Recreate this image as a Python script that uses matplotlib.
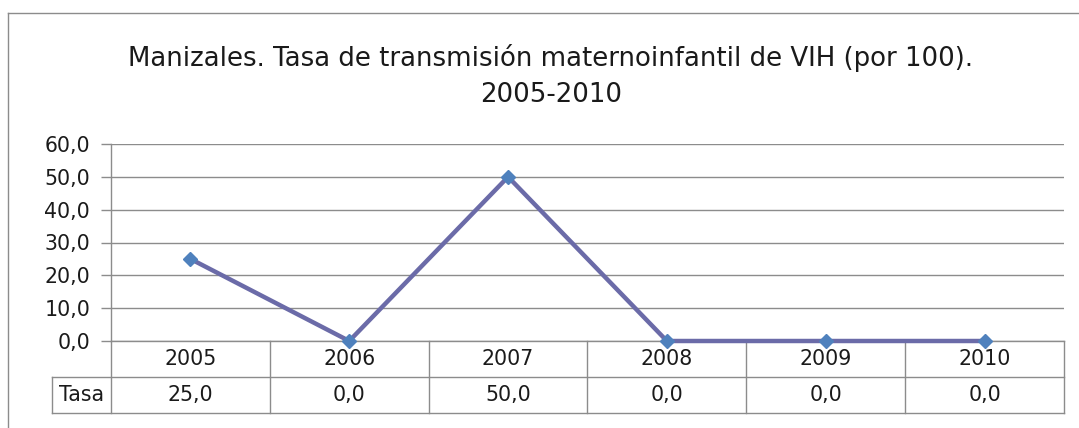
import matplotlib
matplotlib.use("Agg")
import matplotlib.pyplot as plt
import matplotlib.transforms as mtransforms
from matplotlib.lines import Line2D

plt.rcParams['font.family'] = ['DejaVu Sans']

years = ["2005", "2006", "2007", "2008", "2009", "2010"]
tasa = [25.0, 0.0, 50.0, 0.0, 0.0, 0.0]
row_label = "Tasa"
title = "Manizales. Tasa de transmisión maternoinfantil de VIH (por 100).\n2005-2010"

W, H = 1079, 428
fig = plt.figure(figsize=(W / 100, H / 100), dpi=100)
fig.patch.set_facecolor("white")

grid_col = "#8c8c8c"
text_col = "#1a1a1a"
fs = 14.8

# zona del grafico
ax = fig.add_axes([111 / W, 87 / H, 953 / W, 197 / H])
x = list(range(len(years)))
ax.plot(x, tasa, color="#6b6ba8", lw=3.2, zorder=3, clip_on=False,
        marker="D", markersize=7.5, markerfacecolor="#4f81bd",
        markeredgecolor="#4f81bd")
ax.set_xlim(-0.5, len(years) - 0.5)
ax.set_ylim(0, 60)
ax.set_yticks(range(0, 61, 10))
ax.set_yticklabels([f"{v:.1f}".replace(".", ",") for v in range(0, 61, 10)],
                   fontsize=fs, color=text_col)
ax.set_xticks([])
ax.tick_params(axis="y", length=7, color=grid_col, width=1, pad=8)
ax.grid(axis="y", color=grid_col, lw=1)
ax.set_axisbelow(True)
for s in ["top", "right"]:
    ax.spines[s].set_visible(False)
for s in ["left", "bottom"]:
    ax.spines[s].set_color(grid_col)
    ax.spines[s].set_linewidth(1)

# tabla de datos debajo del eje
trans = mtransforms.blended_transform_factory(ax.transData, ax.transAxes)
row_h = 36 / 197
label_left = -59 / 953
kw = dict(color=grid_col, lw=1, clip_on=False, transform=ax.transAxes)
ax.add_line(Line2D([0, 0], [0, -2 * row_h], **kw))
ax.add_line(Line2D([label_left, 1], [-row_h, -row_h], **kw))
ax.add_line(Line2D([label_left, 1], [-2 * row_h, -2 * row_h], **kw))
ax.add_line(Line2D([label_left, label_left], [-row_h, -2 * row_h], **kw))
for i in range(len(years)):
    xb = i + 0.5
    ax.add_line(Line2D([xb, xb], [0, -2 * row_h], color=grid_col, lw=1,
                       clip_on=False, transform=trans))
    ax.text(i, -row_h / 2, years[i], transform=trans, ha="center",
            va="center", fontsize=fs, color=text_col)
    ax.text(i, -1.5 * row_h, f"{tasa[i]:.1f}".replace(".", ","),
            transform=trans, ha="center", va="center", fontsize=fs,
            color=text_col)
ax.text(label_left / 2, -1.5 * row_h, row_label, transform=ax.transAxes,
        ha="center", va="center", fontsize=fs, color=text_col)

# titulo
fig.text(551 / W, 1 - 76 / H, title, ha="center", va="center",
         fontsize=18.7, color=text_col, linespacing=1.55)

# marco exterior
fig.add_artist(Line2D([8 / W, 8 / W], [0, 1 - 13 / H], color=grid_col,
                      lw=1, transform=fig.transFigure))
fig.add_artist(Line2D([8 / W, 1], [1 - 13 / H, 1 - 13 / H], color=grid_col,
                      lw=1, transform=fig.transFigure))

fig.savefig("out.png", dpi=100)
